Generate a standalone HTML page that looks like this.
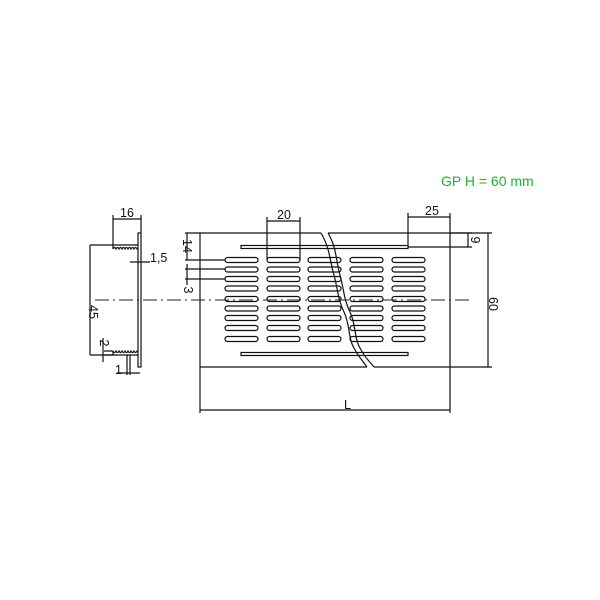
<!DOCTYPE html>
<html><head><style>body{margin:0;background:#fff}svg{display:block}</style></head>
<body>
<svg width="600" height="600" xmlns="http://www.w3.org/2000/svg" font-family="Liberation Sans, sans-serif">
<rect width="600" height="600" fill="#fff"/>
<g stroke="#111" stroke-width="1.2" fill="none">
<path d="M200,233 H321 M328,233 H450 V367 H374 M367,367 H200 Z"/>
<path d="M200,233 V367"/>
<rect x="241" y="245.5" width="167" height="3"/>
<rect x="241" y="352.5" width="167" height="3"/>
<g id="col">
<rect x="225" y="257.5" width="33" height="5" rx="2.5"/>
<rect x="225" y="267" width="33" height="5" rx="2.5"/>
<rect x="225" y="276.5" width="33" height="5" rx="2.5"/>
<rect x="225" y="286" width="33" height="5" rx="2.5"/>
<rect x="225" y="296.5" width="33" height="5" rx="2.5"/>
<rect x="225" y="306" width="33" height="5" rx="2.5"/>
<rect x="225" y="315.5" width="33" height="5" rx="2.5"/>
<rect x="225" y="325.5" width="33" height="5" rx="2.5"/>
<rect x="225" y="336.5" width="33" height="5" rx="2.5"/>
</g>
<use href="#col" x="42"/>
<use href="#col" x="83"/>
<use href="#col" x="125"/>
<use href="#col" x="167"/>
<path d="M321,233 C330,248 330,262 334,275 C338,290 338,300 344,312 C350,324 348,338 354,348 C358,356 362,360 367,367"/>
<path d="M328,233 C337,248 336,262 340,275 C344,290 344,300 350,312 C356,324 354,338 360,348 C364,356 368,360 374,367"/>
<path d="M267,221 H300 M267,217 V260 M300,217 V260"/>
<path d="M408,217 H450 M408,213 V247 M450,213 V233"/>
<path d="M408,247 H472 M450,233 H472 M468,233 V247"/>
<path d="M450,233 H492 M450,367 H492 M488,233 V367"/>
<path d="M200,367 V413 M450,367 V413 M200,410 H450"/>
<path d="M185,233 H200 M185,260 H225 M185,269 H225 M185,279 H225 M187,233 V260 M187,264 V285"/>
<rect x="138" y="233" width="3" height="134"/>
<path d="M90,245 H113 V249 M90,355 H113 V351 M90,245 V355"/>
<path d="M113,249 q1.5,-3 3,0 q1.5,-3 3,0 q1.5,-3 3,0 q1.5,-3 3,0 q1.5,-3 3,0 q1.5,-3 3,0 q1.5,-3 3,0 q1.5,-3 3,0 H138 M113,245 H138"/>
<path d="M113,351 q1.5,3 3,0 q1.5,3 3,0 q1.5,3 3,0 q1.5,3 3,0 q1.5,3 3,0 q1.5,3 3,0 q1.5,3 3,0 q1.5,3 3,0 H138 M113,355 H138"/>
<path d="M113,219 H141 M113,215 V245 M141,215 V233"/>
<path d="M130,262 H150"/>
<path d="M104,351 H113 M104,355 H113 M103,338 V362"/>
<path d="M127,355 V375 M130,355 V375 M117,373 H140"/>
</g>
<path d="M95,300 H470" stroke="#222" stroke-width="1.1" stroke-dasharray="14,4,2,4"/>
<g font-size="12.5" fill="#111">
<text x="284" y="219" text-anchor="middle">20</text>
<text x="432" y="215" text-anchor="middle">25</text>
<text x="127" y="217" text-anchor="middle">16</text>
<text x="150" y="262">1,5</text>
<text x="115" y="374">1</text>
<text x="344" y="409">L</text>
<text transform="translate(183,246) rotate(90)" text-anchor="middle">14</text>
<text transform="translate(184,290) rotate(90)" text-anchor="middle">3</text>
<text transform="translate(471,240) rotate(90)" text-anchor="middle">9</text>
<text transform="translate(489,304) rotate(90)" text-anchor="middle">60</text>
<text transform="translate(89,312) rotate(90)" text-anchor="middle">45</text>
<text transform="translate(100,343) rotate(90)" text-anchor="middle">2</text>
</g>
<text x="441" y="186" font-size="14" fill="#2aa83a">GP  H = 60 mm</text>
</svg>
</body></html>
